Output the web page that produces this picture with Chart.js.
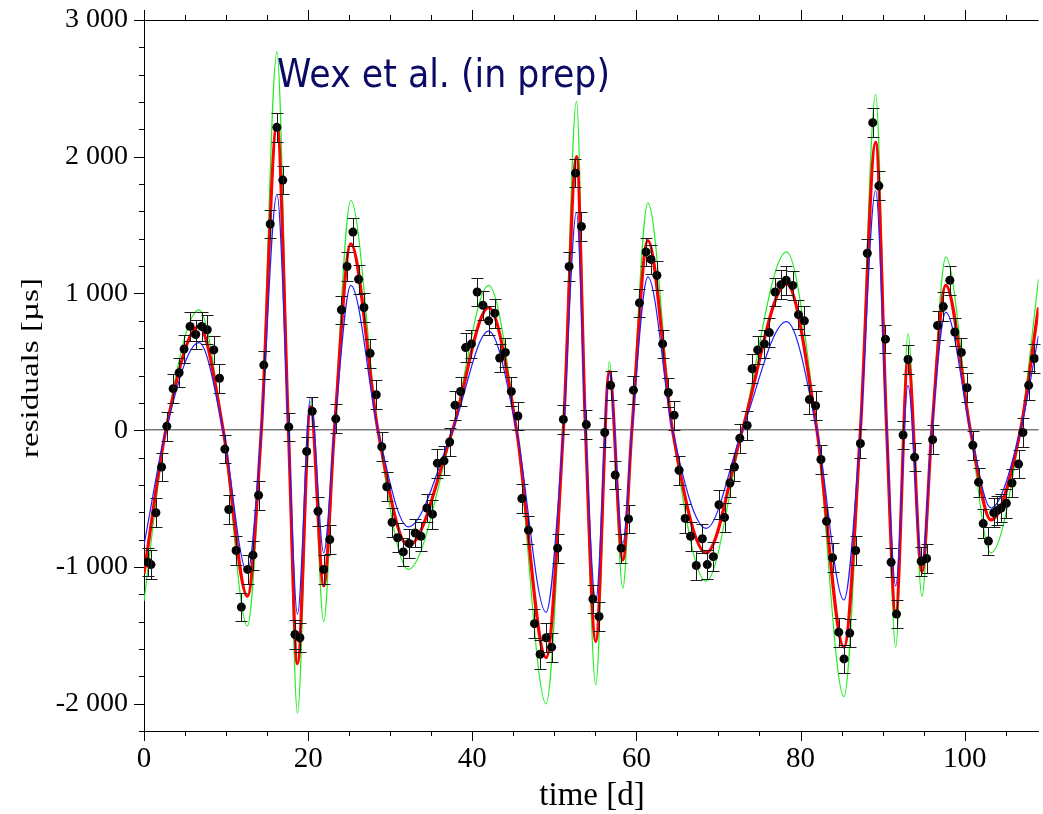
<!DOCTYPE html>
<html>
<head>
<meta charset="utf-8">
<title>residuals</title>
<script src="https://cdn.jsdelivr.net/npm/chart.js@4.4.1/dist/chart.umd.min.js"></script>
<style>
  html, body { margin: 0; padding: 0; background: #fff; }
  #wrap { width: 1043px; height: 814px; }
</style>
</head>
<body>
<div id="wrap"><canvas id="residuals-chart" width="1043" height="814"></canvas></div>
<script>
// model curves, read at the turning points and zero crossings
const curveDays  = [0, 2.66, 6.7, 9.65, 12.6, 14.3, 16.2, 17.6, 18.7, 20.3, 21.9, 23.2, 25.2, 28.5, 32.2, 37.6, 42.0, 45.4, 49.0, 51.1, 52.7, 53.8, 55.05, 56.7, 58.35, 59.45, 61.4, 64.4, 68.5, 72.9, 78.3, 82.0, 85.3, 87.3, 89.15, 90.5, 91.6, 93.1, 94.8, 96.0, 97.7, 100.7, 103.2, 106.8, 109];
const redModel   = [-1050, 0, 760, 0, -1214, 0, 2236, 0, -1708, 172, -1139, 0, 1363, 0, -845, 0, 897, 0, -1663, 0, 2001, 0, -1546, 431, -949, 0, 1387, 0, -897, 0, 1070, 0, -1587, 0, 2105, 0, -1350, 517, -1035, 0, 1059, 0, -656, 0, 897];
const greenModel = [-1250, 0, 880, 0, -1432, 0, 2767, 0, -2070, 207, -1400, 0, 1680, 0, -1018, 0, 1059, 0, -2001, 0, 2405, 0, -1863, 500, -1156, 0, 1663, 0, -1104, 0, 1304, 0, -1949, 0, 2456, 0, -1587, 707, -1214, 0, 1266, 0, -897, 0, 1104];
const blueModel  = [-840, 0, 640, 0, -1040, 0, 1725, 0, -1345, 241, -897, 0, 1059, 0, -707, 0, 724, 0, -1332, 0, 1594, 0, -1250, 414, -828, 0, 1121, 0, -718, 0, 794, 0, -1242, 0, 1753, 0, -1139, 328, -983, 0, 862, 0, -569, 0, 690];

// measured residuals
const obsDays = [0.45, 0.85, 1.45, 2.14, 2.78, 3.55, 4.28, 4.88, 5.61, 6.30,
  7.02, 7.71, 8.51, 9.20, 9.85, 10.33, 11.22, 11.86, 12.63, 13.28,
  13.96, 14.60, 15.38, 16.19, 16.91, 17.64, 18.40, 19.00, 19.82, 20.50,
  21.20, 21.90, 22.64, 23.37, 24.05, 24.74, 25.46, 26.15, 26.80, 27.56,
  28.30, 28.97, 29.58, 30.23, 30.90, 31.60, 32.30, 33.05, 33.74, 34.47,
  35.15, 35.75, 36.56, 37.25, 37.90, 38.58, 39.19, 39.90, 40.60, 41.30,
  42.00, 42.74, 43.34, 44.03, 44.76, 45.56, 46.04, 46.85, 47.58, 48.27,
  49.00, 49.67, 50.40, 51.10, 51.80, 52.58, 53.30, 53.90, 54.70, 55.45,
  56.14, 56.86, 57.42, 58.15, 59.04, 59.64, 60.37, 61.17, 61.78, 62.50,
  63.20, 63.90, 64.60, 65.20, 65.94, 66.60, 67.30, 68.04, 68.64, 69.37,
  70.06, 70.74, 71.40, 71.95, 72.60, 73.50, 74.10, 74.78, 75.60, 76.20,
  76.90, 77.60, 78.25, 79.05, 79.75, 80.47, 81.08, 81.84, 82.49, 83.17,
  83.90, 84.66, 85.30, 86.00, 86.72, 87.30, 88.14, 88.80, 89.55, 90.35,
  91.04, 91.70, 92.50, 93.10, 93.90, 94.70, 95.36, 96.10, 96.70, 97.40,
  98.20, 98.80, 99.60, 100.30, 101.00, 101.70, 102.26, 102.90, 103.55, 103.96,
  104.44, 105.08, 105.77, 106.57, 107.10, 107.80, 108.50];
const obsResiduals = [-965, -983, -604, -269, 28, 304, 420, 593, 759, 700,
  759, 735, 587, 380, -138, -580, -880, -1294, -1018, -914,
  -476, 476, 1508, 2215, 1829, 24, -1494, -1518, -155, 138,
  -593, -1018, -800, 83, 880, 1197, 1449, 1104, 897, 562,
  259, -121, -414, -673, -787, -890, -828, -752, -776, -569,
  -614, -241, -224, -86, 183, 283, 604, 631, 1011, 914,
  800, 856, 528, 569, 283, 104, -500, -731, -1415, -1639,
  -1518, -1587, -863, 79, 1197, 1880, 1490, 41, -1235, -1363,
  -17, 328, -328, -863, -649, 293, 931, 1304, 1249, 1132,
  631, 276, 110, -293, -645, -776, -990, -794, -983, -925,
  -545, -638, -386, -269, -59, 35, 449, 587, 631, 714,
  1011, 1063, 1097, 1059, 845, 800, 224, 179, -214, -666,
  -932, -1477, -1673, -1484, -880, -97, 1294, 2249, 1787, 666,
  -966, -1345, -35, 517, -197, -959, -938, -69, 766, 904,
  1097, 718, 569, 310, -110, -380, -683, -811, -604, -587,
  -569, -535, -386, -248, -17, 328, 524];
const obsError = 105; // same size bar on every point

const xTickValues = [0, 20, 40, 60, 80, 100];
const xTickLabels = ['0', '20', '40', '60', '80', '100'];
const yTickValues = [-2000, -1000, 0, 1000, 2000, 3000];
const yTickLabels = ['-2 000', '-1 000', '0', '1 000', '2 000', '3 000'];

const titleText = 'Wex et al. (in prep)';
const xTitle = 'time [d]';
const yTitle = 'residuals [\u00b5s]';

function pairs(xs, ys) {
    return xs.map((x, i) => ({ x: x, y: ys[i] }));
}

// ticks on all three drawn sides, long at labelled values
const axisFrame = {
    id: 'axisFrame',
    afterDraw(chart) {
        const ctx = chart.ctx;
        const area = chart.chartArea;
        const xs = chart.scales.x;
        const ys = chart.scales.y;
        ctx.save();
        ctx.strokeStyle = '#000';
        ctx.lineWidth = 1;
        ctx.beginPath();
        ctx.moveTo(area.left, Math.round(area.top) + 0.5);
        ctx.lineTo(area.right, Math.round(area.top) + 0.5);
        xs.ticks.forEach(t => {
            const px = Math.round(xs.getPixelForValue(t.value)) + 0.5;
            const len = xTickValues.includes(t.value) ? 10 : 5;
            ctx.moveTo(px, area.bottom);
            ctx.lineTo(px, area.bottom + len);
            ctx.moveTo(px, area.top);
            ctx.lineTo(px, area.top - len);
        });
        ys.ticks.forEach(t => {
            const py = Math.round(ys.getPixelForValue(t.value)) + 0.5;
            const len = yTickValues.includes(t.value) ? 10 : 5;
            ctx.moveTo(area.left, py);
            ctx.lineTo(area.left - len, py);
        });
        ctx.stroke();

        // axis titles
        ctx.fillStyle = '#000';
        ctx.font = '33px "Liberation Serif"';
        ctx.textAlign = 'center';
        ctx.textBaseline = 'alphabetic';
        ctx.fillText(xTitle, 592, 805);

        ctx.save();
        ctx.font = '25px "Liberation Serif"';
        const yw = ctx.measureText(yTitle).width;
        ctx.translate(31, 368);
        ctx.rotate(-Math.PI / 2);
        ctx.scale(180 / yw, 1);
        ctx.textBaseline = 'middle';
        ctx.fillText(yTitle, 0, 0);
        ctx.restore();

        // annotation
        ctx.save();
        ctx.font = '39px "DejaVu Sans"';
        const tw = ctx.measureText(titleText).width;
        ctx.translate(277, 87);
        ctx.scale(333 / tw, 1);
        ctx.textAlign = 'left';
        ctx.fillStyle = '#0b0b66';
        ctx.fillText(titleText, 0, 0);
        ctx.restore();

        ctx.restore();
    }
};

const errorBars = {
    id: 'errorBars',
    afterDatasetsDraw(chart) {
        const ctx = chart.ctx;
        const ys = chart.scales.y;
        const meta = chart.getDatasetMeta(0);
        ctx.save();
        ctx.strokeStyle = '#1a1a1a';
        ctx.lineWidth = 1;
        ctx.beginPath();
        meta.data.forEach((pt, i) => {
            const v = obsResiduals[i];
            const top = Math.round(ys.getPixelForValue(v + obsError)) + 0.5;
            const bot = Math.round(ys.getPixelForValue(v - obsError)) + 0.5;
            const x = Math.round(pt.x) + 0.5;
            ctx.moveTo(x, top); ctx.lineTo(x, bot);
            ctx.moveTo(x - 6, top); ctx.lineTo(x + 6, top);
            ctx.moveTo(x - 6, bot); ctx.lineTo(x + 6, bot);
        });
        ctx.stroke();
        ctx.restore();
    }
};

const canvas = document.getElementById('residuals-chart');
const chart = new Chart(canvas.getContext('2d'), {
    type: 'line',
    data: {
        datasets: [
            {
                type: 'scatter',
                label: 'data',
                data: pairs(obsDays, obsResiduals),
                showLine: false,
                pointRadius: 4.5,
                pointBackgroundColor: '#000',
                pointBorderWidth: 0,
                order: 0
            },
            {
                label: 'blue model',
                data: pairs(curveDays, blueModel),
                borderColor: '#2020ff',
                borderWidth: 1.2,
                pointRadius: 0,
                fill: false,
                cubicInterpolationMode: 'monotone',
                order: 1
            },
            {
                label: 'red model',
                data: pairs(curveDays, redModel),
                borderColor: '#ff0000',
                borderWidth: 3.2,
                pointRadius: 0,
                fill: false,
                cubicInterpolationMode: 'monotone',
                order: 2
            },
            {
                label: 'green model',
                data: pairs(curveDays, greenModel),
                borderColor: '#22ee22',
                borderWidth: 1.2,
                pointRadius: 0,
                fill: false,
                cubicInterpolationMode: 'monotone',
                order: 3
            }
        ]
    },
    options: {
        responsive: false,
        animation: false,
        devicePixelRatio: 1,
        layout: { padding: { top: 20, right: -5, left: 0, bottom: 0 } },
        plugins: { legend: { display: false }, tooltip: { enabled: false } },
        scales: {
            x: {
                type: 'linear',
                min: 0,
                max: 109,
                afterFit: s => { s.height = 83; s.paddingLeft = 0; s.paddingRight = 0; },
                ticks: {
                    stepSize: 5,
                    includeBounds: false,
                    autoSkip: false,
                    maxRotation: 0,
                    padding: 11,
                    color: '#000',
                    font: { family: 'Liberation Serif', size: 29 },
                    callback: v => {
                        const i = xTickValues.indexOf(v);
                        return i >= 0 ? xTickLabels[i] : '';
                    }
                },
                grid: { drawOnChartArea: false, drawTicks: false },
                border: { display: true, color: '#000', width: 1 }
            },
            y: {
                min: -2200,
                max: 3000,
                afterFit: s => { s.width = 144; s.paddingTop = 0; s.paddingBottom = 0; },
                ticks: {
                    stepSize: 200,
                    includeBounds: false,
                    autoSkip: false,
                    padding: 16,
                    color: '#000',
                    font: { family: 'Liberation Serif', size: 28 },
                    callback: v => {
                        const i = yTickValues.indexOf(v);
                        return i >= 0 ? yTickLabels[i] : '';
                    }
                },
                grid: {
                    drawTicks: false,
                    color: c => (c.tick && c.tick.value === 0 ? '#7a7a7a' : 'rgba(0,0,0,0)'),
                    lineWidth: 1.5
                },
                border: { display: true, color: '#000', width: 1 }
            }
        }
    },
    plugins: [axisFrame, errorBars]
});
</script>
</body>
</html>
